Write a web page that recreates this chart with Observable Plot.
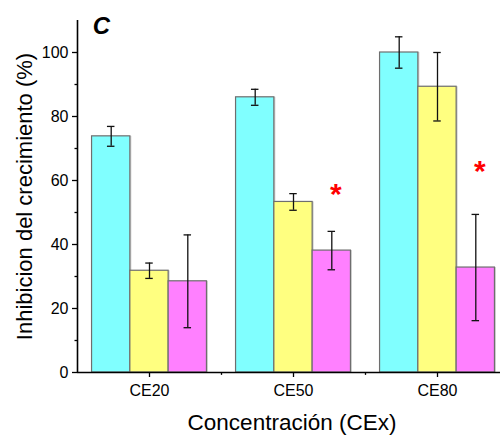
<!DOCTYPE html>
<html>
<head>
<meta charset="utf-8">
<script src="https://cdn.jsdelivr.net/npm/d3@7"></script>
<script src="https://cdn.jsdelivr.net/npm/@observablehq/plot@0.6"></script>
<style>
  html, body { margin: 0; padding: 0; background: #fff; }
  #chart { width: 500px; height: 437px; overflow: hidden; }
</style>
</head>
<body>
<div id="chart"></div>
<script>
const categories = ["CE20", "CE50", "CE80"];
const seriesNames = ["A", "B", "C"];
const seriesA = [73.8, 86.0, 100.0];
const errA = [3.1, 2.5, 4.9];
const seriesB = [31.8, 53.3, 89.3];
const errB = [2.4, 2.6, 10.7];
const seriesC = [28.5, 38.1, 32.8];
const errC = [14.5, 6.0, 16.6];
const colors = ["#80FFFF", "#FFFF80", "#FF80FF"];
const starCats = ["CE50", "CE80"];
const starY = [55.8, 62.9];
const yTicks = [0, 20, 40, 60, 80, 100];
const yMinorTicks = [10, 30, 50, 70, 90];

const values = [seriesA, seriesB, seriesC];
const errs = [errA, errB, errC];
const FONT = "Liberation Sans, Arial, Helvetica, sans-serif";

const band = 144;
const barW = 38.3;
const offsets = [-barW, 0, barW];
const barInset = (band - barW) / 2;
const capInset = (band - 7.5) / 2;

const marks = [];
seriesNames.forEach((s, i) => {
  const data = categories.map((c, j) => ({cat: c, v: values[i][j], e: errs[i][j]}));
  marks.push(Plot.barY(data, {x: "cat", y: "v", fill: "#d0d0d0", dx: offsets[i] + 1.5, dy: 0,
    insetLeft: barInset, insetRight: barInset}));
  marks.push(Plot.barY(data, {x: "cat", y: "v", fill: colors[i], stroke: "#6e6e6e", strokeWidth: 1.2,
    dx: offsets[i], insetLeft: barInset, insetRight: barInset}));
});
seriesNames.forEach((s, i) => {
  const data = categories.map((c, j) => ({cat: c, v: values[i][j], e: errs[i][j]}));
  marks.push(Plot.ruleX(data, {x: "cat", y1: d => d.v - d.e, y2: d => d.v + d.e, dx: offsets[i],
    stroke: "#111", strokeWidth: 1.3}));
  marks.push(Plot.tickY(data, {x: "cat", y: d => d.v + d.e, dx: offsets[i], stroke: "#111", strokeWidth: 1.3,
    insetLeft: capInset, insetRight: capInset}));
  marks.push(Plot.tickY(data, {x: "cat", y: d => d.v - d.e, dx: offsets[i], stroke: "#111", strokeWidth: 1.3,
    insetLeft: capInset, insetRight: capInset}));
});

marks.push(Plot.text(starCats.map((c, k) => ({cat: c, y: starY[k]})), {
  x: "cat", y: "y", text: () => "*", dx: barW + 4, fill: "#ff0000",
  fontSize: 30, fontWeight: "bold", fontFamily: FONT, lineAnchor: "middle"
}));

marks.push(Plot.ruleY([0], {stroke: "#000", strokeWidth: 1.6}));
marks.push(Plot.ruleX(["CE20"], {x: d => d, dx: -band / 2, y1: 0, y2: 110, stroke: "#000", strokeWidth: 1.6}));
marks.push(Plot.ruleX(["CE20", "CE50"], {x: d => d, dx: band / 2, y1: 0, y2: -0.9, stroke: "#000", strokeWidth: 1.3}));

marks.push(Plot.axisY({ticks: yTicks, tickSize: 5, tickPadding: 4, label: null, fontSize: 16,
  fontFamily: FONT, fill: "#000", stroke: "#000", strokeWidth: 1.3, tickFormat: d => String(d)}));
marks.push(Plot.axisY({ticks: yMinorTicks, tickSize: 2.5, label: null, tickFormat: () => "",
  stroke: "#000", strokeWidth: 1.3}));
marks.push(Plot.axisX({tickSize: 5, tickPadding: 7, label: null, fontSize: 16, fontFamily: FONT,
  fill: "#000", stroke: "#000", strokeWidth: 1.3}));

marks.push(Plot.text(["Inhibicion del crecimiento (%)"], {frameAnchor: "left", rotate: -90, dx: -53, dy: 0,
  fontSize: 22, fontFamily: FONT, fill: "#000", textAnchor: "middle", lineAnchor: "middle"}));
marks.push(Plot.text(["Concentración (CEx)"], {frameAnchor: "bottom", dx: 3, dy: 50,
  fontSize: 22.5, fontFamily: FONT, fill: "#000", textAnchor: "middle", lineAnchor: "middle"}));
marks.push(Plot.text(["C"], {frameAnchor: "top-left", dx: 24, dy: 6,
  fontSize: 24, fontWeight: "bold", fontStyle: "italic", fontFamily: FONT, fill: "#000",
  textAnchor: "middle", lineAnchor: "middle"}));

const chart = Plot.plot({
  width: 500,
  height: 437,
  marginLeft: 77,
  marginRight: 0,
  marginTop: 20,
  marginBottom: 65,
  style: {background: "#fff", fontFamily: FONT, overflow: "hidden"},
  x: {type: "band", domain: categories, range: [77, 77 + 3 * band], padding: 0, axis: null},
  y: {domain: [0, 110], axis: null},
  marks
});
document.getElementById("chart").appendChild(chart);
</script>
</body>
</html>
